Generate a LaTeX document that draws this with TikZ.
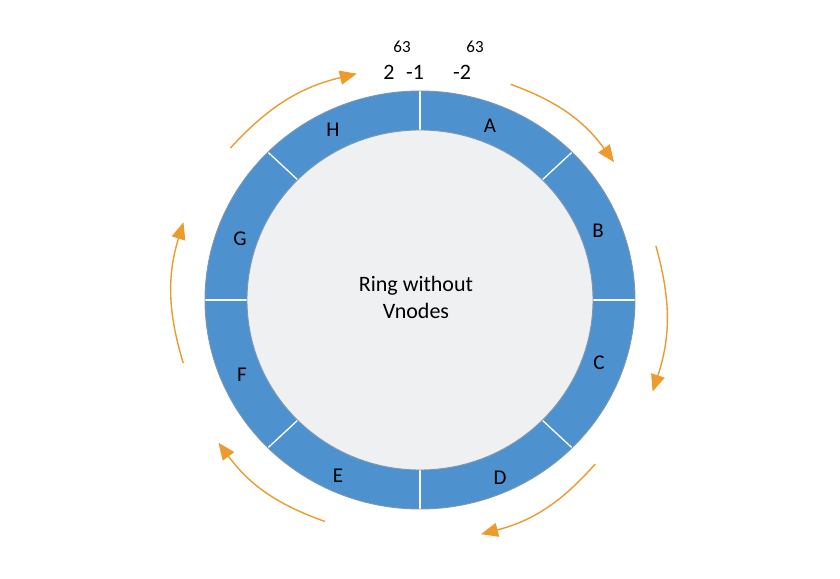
\documentclass[tikz,border=0pt]{standalone}
\usepackage{fontspec}
\setmainfont{Carlito}
\usetikzlibrary{arrows.meta}
\definecolor{ringblue}{RGB}{77,146,206}
\definecolor{ringedge}{RGB}{125,150,178}
\definecolor{holegray}{RGB}{239,240,242}
\definecolor{floworange}{RGB}{238,155,45}

\begin{document}
\begin{tikzpicture}[x=1pt,y=1pt,
    seglabel/.style={font=\fontsize{21pt}{25pt}\selectfont,inner sep=0},
    bignum/.style={font=\fontsize{22pt}{26pt}\selectfont,inner sep=0},
    expnum/.style={font=\fontsize{17pt}{20pt}\selectfont,inner sep=0},
    flow/.style={draw=floworange,line width=1.4pt,-{Triangle[length=17pt,width=14pt]}}]
    \pgfmathsetmacro{\outerx}{215}
    \pgfmathsetmacro{\outery}{209}
    \pgfmathsetmacro{\innerx}{173}
    \pgfmathsetmacro{\innery}{170}
    \useasboundingbox (-420,-278) rectangle (420,300);
    \fill[white] (-420,-278) rectangle (420,300);
    % ring and hole
    \fill[ringblue] (0,0) ellipse [x radius=\outerx, y radius=\outery];
    \fill[holegray] (0,0) ellipse [x radius=\innerx, y radius=\innery];
    \foreach \a in {0,45,...,315}
        \draw[white,line width=1.3pt] ({\innerx*cos(\a)},{\innery*sin(\a)}) -- ({\outerx*cos(\a)},{\outery*sin(\a)});
    \draw[ringedge,line width=0.9pt] (0,0) ellipse [x radius=\outerx, y radius=\outery];
    \draw[ringedge,line width=0.9pt] (0,0) ellipse [x radius=\innerx, y radius=\innery];
    % segment names
    \foreach \lbl/\px/\py in {A/70/174, B/178/69, C/179/-63, D/80/-178,
        E/-82/-176, F/-178/-75, G/-180/61, H/-87/170}
        \node[seglabel] (seg\lbl) at (\px,\py) {\lbl};
    \node[font=\fontsize{22pt}{27pt}\selectfont,align=center] (title) at (-4,3) {Ring without\\Vnodes};
    % token range ends
    \node[bignum] (maxbase) at (-31,228) {2};
    \node[expnum] (maxexp) at (-18,253) {63};
    \node[bignum] (maxminus) at (-5,228) {-1};
    \node[bignum] (minbase) at (42,228) {-2};
    \node[expnum] (minexp) at (55,253) {63};
    % clockwise flow
    \foreach \sa/\sr/\ea/\er [count=\k] in {141.3/243/105.6/235, 67.2/234/35.4/238, 12.9/242/-21.5/250,
        -43.1/240/-75.4/242, -113.2/241/-144.7/247, -165.1/245/161.8/249} {
        \coordinate (fs\k) at (\sa:\sr);
        \coordinate (fe\k) at (\ea:\er);
        \draw[flow] (fs\k) to[bend left=17] (fe\k);
    }
\end{tikzpicture}
\end{document}
